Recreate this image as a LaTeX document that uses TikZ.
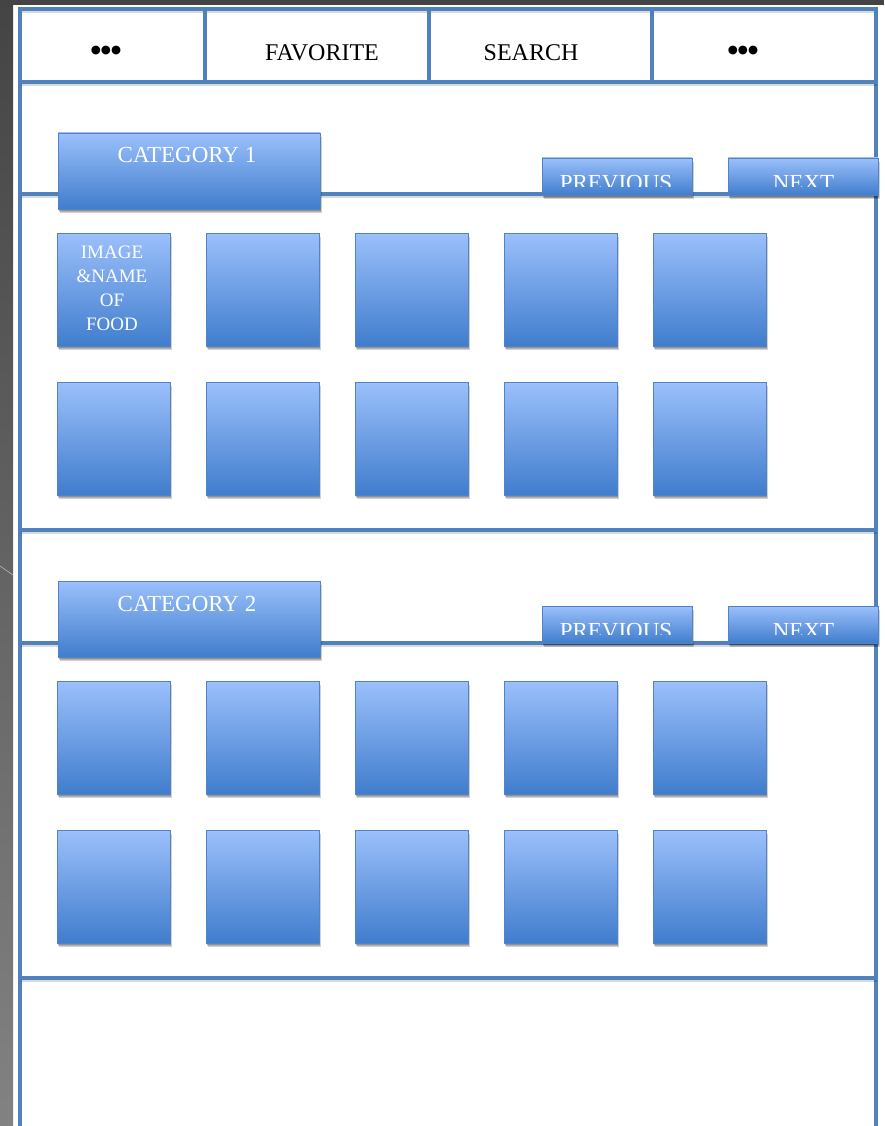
\documentclass[tikz,border=0pt]{standalone}
\usepackage{fontspec}
\setmainfont{Liberation Serif}
\newfontfamily\dotfont{DejaVu Sans}
\usetikzlibrary{shadows}
\definecolor{framec}{RGB}{79,129,189}
\definecolor{btop}{RGB}{155,192,251}
\definecolor{bbot}{RGB}{64,125,205}
\definecolor{bedge}{RGB}{82,132,196}
\definecolor{bgdark}{RGB}{68,68,68}
\definecolor{bglight}{RGB}{130,130,130}
\tikzset{
  frameline/.style={draw=framec, line width=3.2pt, line cap=rect,
    preaction={draw=black, opacity=0.15, line width=3pt, transform canvas={shift={(0.8pt,-2.4pt)}}}},
  btn/.style={draw=bedge, line width=0.9pt, top color=btop, bottom color=bbot,
    anchor=north west, inner sep=0pt, outer sep=0pt,
    double copy shadow={shadow xshift=0.8pt, shadow yshift=-2pt, opacity=0.18, fill=black, draw=none},
    drop shadow={shadow xshift=1.2pt, shadow yshift=-3.2pt, opacity=0.15, fill=black}},
  tile/.style={btn, minimum width=113pt, minimum height=113pt},
  catbtn/.style={btn, minimum width=262pt, minimum height=76pt},
  navbtn/.style={btn, minimum width=150pt, minimum height=37pt},
  hdrtext/.style={anchor=base, inner sep=0pt, text=black, font=\fontsize{24}{24}\selectfont},
  dotstext/.style={anchor=center, inner sep=0pt, text=black, font=\dotfont\fontsize{11.5}{11.5}\selectfont},
  btntext/.style={anchor=base, inner sep=0pt, text=white, font=\fontsize{23}{23}\selectfont},
  tiletext/.style={inner sep=0pt, text=white, align=center, font=\fontsize{19}{24}\selectfont}
}
\begin{document}
\begin{tikzpicture}[x=1pt,y=-1pt]
\useasboundingbox (0,0) rectangle (884,1126);
\fill[white] (0,0) rectangle (884,1126);
\fill[bgdark] (0,0) rectangle (884,5);
\shade[top color=bgdark, bottom color=bglight] (0,0) rectangle (13,1126);
\draw[gray!55, line width=0.6pt] (0,566) -- (13,575);
% frame
\draw[frameline] (20,1132) -- (20,9) -- (876,9) -- (876,1132);
\foreach \y in {82,194,530,643,978} \draw[frameline] (20,\y) -- (876,\y);
\foreach \x in {205,429,652} \draw[frameline] (\x,9) -- (\x,82);
% header texts
\node[dotstext] (dotsl) at (106,51) {●●●};
\node[hdrtext] (fav) at (322,60.5) {FAVORITE};
\node[hdrtext] (search) at (531,60.5) {SEARCH};
\node[dotstext] (dotsr) at (743,51) {●●●};
% sections
\foreach \s/\oy in {1/0,2/448}{
  \node[catbtn] (cat\s) at (58,133+\oy) {};
  \node[btntext] (cat\s t) at (187,163+\oy) {CATEGORY \s};
  \node[navbtn] (prev\s) at (542,158+\oy) {};
  \node[navbtn] (next\s) at (728,158+\oy) {};
  \begin{scope}
    \clip (540,156+\oy) rectangle (880,186.5+\oy);
    \node[btntext] (prev\s t) at (616,190+\oy) {PREVIOUS};
    \node[btntext] (next\s t) at (803.5,190+\oy) {NEXT};
  \end{scope}
  \foreach \r/\ry in {1/233,2/382}{
    \foreach \c/\cx in {1/57,2/206,3/355,4/504,5/653}{
      \node[tile] (t\s-\r-\c) at (\cx,\ry+\oy) {};
    }
  }
}
\node[tiletext] (food) at (112,288) {IMAGE\\\&NAME\\OF\\FOOD};
\end{tikzpicture}
\end{document}
